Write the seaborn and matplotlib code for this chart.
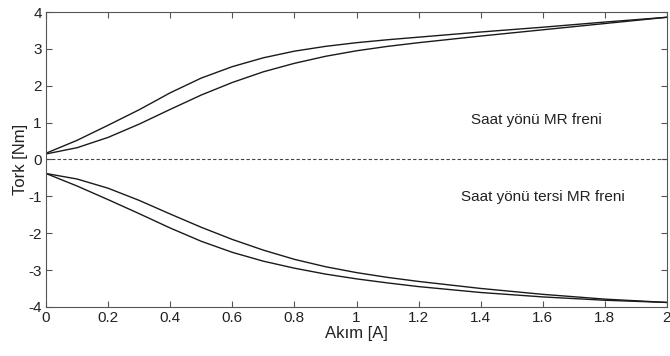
import pandas as pd
import matplotlib.pyplot as plt
import seaborn as sns

# Akim degerleri [A]
akim = [0.0, 0.1, 0.2, 0.3, 0.4, 0.5, 0.6, 0.7, 0.8, 0.9, 1.0, 1.1, 1.2, 1.4, 1.6, 1.8, 2.0]

# Saat yonu MR freni (iki kol)
cw_ust = [0.17, 0.52, 0.93, 1.35, 1.81, 2.21, 2.52, 2.76, 2.94, 3.07, 3.17, 3.25, 3.32, 3.46, 3.59, 3.73, 3.86]
cw_alt = [0.15, 0.32, 0.60, 0.96, 1.36, 1.75, 2.09, 2.38, 2.61, 2.80, 2.95, 3.07, 3.17, 3.35, 3.52, 3.69, 3.86]

# Saat yonu tersi MR freni (iki kol)
ccw_ust = [-0.38, -0.53, -0.78, -1.11, -1.48, -1.84, -2.17, -2.46, -2.71, -2.91, -3.07, -3.20, -3.31, -3.50, -3.66, -3.79, -3.88]
ccw_alt = [-0.38, -0.72, -1.09, -1.47, -1.86, -2.22, -2.52, -2.76, -2.95, -3.11, -3.24, -3.35, -3.45, -3.61, -3.73, -3.82, -3.88]

sns.set_style('ticks')
plt.rcParams['font.family'] = ['Liberation Sans', 'DejaVu Sans']
plt.rcParams['axes.unicode_minus'] = False

fig = plt.figure(figsize=(6.7, 3.56), dpi=100)
ax = fig.add_axes([0.0687, 0.138, 0.9268, 0.828])

for seri in [cw_ust, cw_alt, ccw_ust, ccw_alt]:
    df = pd.DataFrame({'akim': akim, 'tork': seri})
    sns.lineplot(data=df, x='akim', y='tork', ax=ax, color='#1a1a1a', linewidth=1.0)
for ln in ax.lines:
    ln.set_solid_joinstyle('round')

ax.axhline(0, color='#444444', linestyle='--', linewidth=0.8, dashes=(3, 2))

ax.set_xlim(0, 2)
ax.set_ylim(-4, 4)
ax.set_xticks([0, 0.2, 0.4, 0.6, 0.8, 1, 1.2, 1.4, 1.6, 1.8, 2])
ax.set_xticklabels(['0', '0.2', '0.4', '0.6', '0.8', '1', '1.2', '1.4', '1.6', '1.8', '2'])
ax.set_yticks(range(-4, 5))
ax.tick_params(direction='in', top=True, right=True, length=4, labelsize=11,
               color='#555555', labelcolor='#222222', pad=3)
for sp in ax.spines.values():
    sp.set_color('#555555')
    sp.set_linewidth(0.8)

ax.set_xlabel('Akım [A]', fontsize=12, labelpad=1, color='#222222')
ax.set_ylabel('Tork [Nm]', fontsize=12, labelpad=0, color='#222222')

ax.text(1.58, 1.07, 'Saat yönü MR freni', fontsize=11, ha='center', va='center', color='#222222')
ax.text(1.6, -1.02, 'Saat yönü tersi MR freni', fontsize=11, ha='center', va='center', color='#222222')

fig.savefig('out.png', dpi=100)
